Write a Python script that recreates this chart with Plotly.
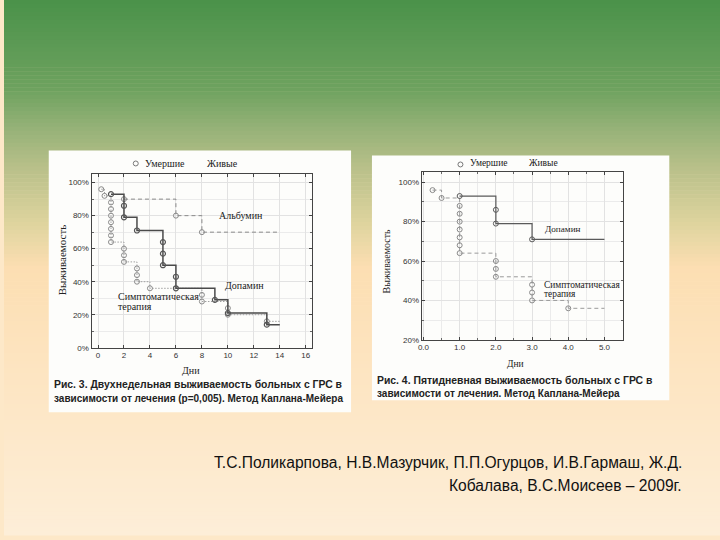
import numpy as np
import plotly.graph_objects as go

W, H = 720, 540

# ---------------- DATA ----------------
# Fig. 3 (two-week survival, %)
f3_symp_t = [0.25, 0.5, 1, 1, 1, 1, 1, 1, 1, 2, 2, 2, 3, 3, 3, 4, 8, 8, 10, 10, 13]
f3_symp_s = [96, 92, 88, 84, 80, 76, 72, 68, 64, 60, 56, 52, 48, 44, 40, 36, 32, 28, 24, 20, 16]
f3_symp_end = 14

f3_dop_t = [1, 2, 2, 3, 5, 5, 5, 6, 6, 9, 10, 13]
f3_dop_s = [93, 86, 79, 71, 64, 57, 50, 43, 36, 29, 21, 14]
f3_dop_end = 14

f3_alb_t = [2, 6, 8]
f3_alb_s = [90, 80, 70]
f3_alb_end = 14

# Fig. 4 (five-day survival, %)
f4_symp_t = [0.25, 0.5, 1, 1, 1, 1, 1, 1, 1, 2, 2, 2, 3, 3, 3, 4]
f4_symp_s = [96, 92, 88, 84, 80, 76, 72, 68, 64, 60, 56, 52, 48, 44, 40, 36]
f4_symp_end = 5

f4_dop_t = [1, 2, 2, 3]
f4_dop_s = [93, 86, 79, 71]
f4_dop_end = 5

f3_xticks = [0, 2, 4, 6, 8, 10, 12, 14, 16]
f3_yticks = [0, 20, 40, 60, 80, 100]
f3_yticktext = ["0%", "20%", "40%", "60%", "80%", "100%"]
f4_xticks = [0, 1, 2, 3, 4, 5]
f4_xticktext = ["0.0", "1.0", "2.0", "3.0", "4.0", "5.0"]
f4_yticks = [20, 40, 60, 80, 100]
f4_yticktext = ["20%", "40%", "60%", "80%", "100%"]

legend_dead = "Умершие"
legend_alive = "Живые"
ytitle = "Выживаемость"
xtitle = "Дни"
cap3 = ["Рис. 3. Двухнедельная выживаемость больных с ГРС в",
        "зависимости от лечения (р=0,005). Метод Каплана-Мейера"]
cap4 = ["Рис. 4. Пятидневная выживаемость больных с ГРС в",
        "зависимости от лечения. Метод Каплана-Мейера"]
authors = ["Т.С.Поликарпова, Н.В.Мазурчик, П.П.Огурцов, И.В.Гармаш, Ж.Д.",
           "Кобалава, В.С.Моисеев – 2009г."]

# ---------------- helpers ----------------
def px(x):
    return x / W

def py(y):
    return 1 - y / H

def step_line(t, s, end):
    return list(t) + [end], list(s) + [s[-1]]

fig = go.Figure()

SERIF = "Liberation Serif"
SANS = "Liberation Sans"

def add_curve(t, s, end, xa, ya, color, dash, lw, mcolor, mlw, msize):
    lx, ly = step_line(t, s, end)
    fig.add_trace(go.Scatter(x=lx, y=ly, mode="lines", line_shape="hv",
                             line=dict(color=color, dash=dash, width=lw),
                             xaxis=xa, yaxis=ya, showlegend=False, hoverinfo="skip"))
    fig.add_trace(go.Scatter(x=t, y=s, mode="markers",
                             marker=dict(symbol="circle-open", size=msize,
                                         color=mcolor, line=dict(width=mlw, color=mcolor)),
                             xaxis=xa, yaxis=ya, showlegend=False, hoverinfo="skip"))

# Fig 3
add_curve(f3_alb_t, f3_alb_s, f3_alb_end, "x", "y", "#8a8a8a", "4px,3px", 1, "#8a8a8a", 1, 5)
add_curve(f3_symp_t, f3_symp_s, f3_symp_end, "x", "y", "#a0a0a0", "1.5px,1.5px", 1, "#8a8a8a", 1, 5)
add_curve(f3_dop_t, f3_dop_s, f3_dop_end, "x", "y", "#4a4a4a", "solid", 1.5, "#555555", 1.2, 5)
# Fig 4
add_curve(f4_symp_t, f4_symp_s, f4_symp_end, "x2", "y2", "#9a9a9a", "4px,3px", 1, "#8a8a8a", 1, 5)
add_curve(f4_dop_t, f4_dop_s, f4_dop_end, "x2", "y2", "#5a5a5a", "solid", 1.2, "#5a5a5a", 1, 5)

# ---------------- background gradient ----------------
stops = [(0, (74, 146, 74)), (90, (110, 162, 95)), (130, (150, 178, 120)),
         (170, (185, 192, 138)), (225, (222, 212, 158)), (270, (252, 222, 178)),
         (380, (253, 229, 194)), (540, (253, 238, 216))]
sy = [p[0] for p in stops]
shapes = []
band = 4
for y0 in range(0, H, band):
    yc = y0 + band / 2
    r = np.interp(yc, sy, [p[1][0] for p in stops])
    g = np.interp(yc, sy, [p[1][1] for p in stops])
    b = np.interp(yc, sy, [p[1][2] for p in stops])
    shapes.append(dict(type="rect", xref="paper", yref="paper", layer="below",
                       x0=0, x1=1, y0=py(y0 + band + 0.5), y1=py(y0),
                       fillcolor=f"rgb({r:.0f},{g:.0f},{b:.0f})", line=dict(width=0)))

# white panels
for (x0, y0, x1, y1) in [(45, 152, 349, 416), (370, 157, 669, 404)]:
    shapes.append(dict(type="rect", xref="paper", yref="paper", layer="below",
                       x0=px(x0), x1=px(x1), y0=py(y1), y1=py(y0),
                       fillcolor="#fdfdfb", line=dict(width=0)))

# legend circles
for (cx, cy) in [(132.5, 165), (459, 166)]:
    shapes.append(dict(type="circle", xref="paper", yref="paper",
                       x0=px(cx - 2.5), x1=px(cx + 2.5), y0=py(cy + 2.5), y1=py(cy - 2.5),
                       line=dict(color="#777", width=1), fillcolor="rgba(0,0,0,0)"))

ann = []
def text(x, y, s, size, family=SERIF, color="#222", xanchor="left", angle=0, bold=False):
    ann.append(dict(x=px(x), y=py(y), xref="paper", yref="paper", text=(f"<b>{s}</b>" if bold else s),
                    showarrow=False, xanchor=xanchor, yanchor="middle", textangle=angle,
                    font=dict(family=family, size=size, color=color)))

# legends
text(140, 165, legend_dead, 10)
text(202, 165, legend_alive, 10)
text(467, 165, legend_dead, 9.5)
text(526, 165, legend_alive, 9.5)
# axis titles
text(58, 263, ytitle, 11, xanchor="center", angle=-90)
text(385, 263, ytitle, 10, xanchor="center", angle=-90)
text(188, 374, xtitle, 10, xanchor="center")
text(514, 367, xtitle, 9.5, xanchor="center")
# captions
text(48, 388, cap3[0], 10.4, family=SANS, color="#222", bold=True)
text(48, 402, cap3[1], 10, family=SANS, color="#222", bold=True)
text(373, 384, cap4[0], 10.4, family=SANS, color="#222", bold=True)
text(373, 397, cap4[1], 10, family=SANS, color="#222", bold=True)
# authors
text(684, 467, authors[0], 15.6, family=SANS, color="#111", xanchor="right")
text(684, 490, authors[1], 15.6, family=SANS, color="#111", xanchor="right")

# curve labels (data coords)
def dlabel(x, y, s, xr, yr, size):
    ann.append(dict(x=x, y=y, xref=xr, yref=yr, text=s, showarrow=False,
                    xanchor="left", yanchor="middle",
                    font=dict(family=SERIF, size=size, color="#222")))

dlabel(9.15, 80, "Альбумин", "x", "y", 10)
dlabel(9.65, 38, "Допамин", "x", "y", 10)
dlabel(1.4, 31.2, "Симптоматическая", "x", "y", 10)
dlabel(1.4, 25.2, "терапия", "x", "y", 10)
dlabel(3.3, 76.2, "Допамин", "x2", "y2", 9.2)
dlabel(3.28, 47.8, "Симптоматическая", "x2", "y2", 9.4)
dlabel(3.28, 43.2, "терапия", "x2", "y2", 9.4)

axis_common = dict(showline=True, linecolor="#444", linewidth=1, mirror="ticks",
                   ticks="inside", ticklen=3, tickcolor="#444",
                   showgrid=True, gridcolor="#e2e2e2", gridwidth=1, zeroline=False,
                   tickfont=dict(family=SANS, size=8, color="#333"))
minor_y = dict(dtick=10, tick0=0, showgrid=True, gridcolor="#ebebeb",
               ticks="inside", ticklen=2, tickcolor="#666")

fig.update_layout(
    width=W, height=H, margin=dict(l=0, r=0, t=0, b=0),
    paper_bgcolor="rgb(253,232,200)", plot_bgcolor="#ffffff",
    showlegend=False,
    shapes=shapes, annotations=ann,
    xaxis=dict(domain=[px(88), px(310)], range=[-0.5, 16.5], tickvals=f3_xticks,
               anchor="y", **axis_common),
    yaxis=dict(domain=[py(351), py(176)], range=[0, 105], tickvals=f3_yticks,
               ticktext=f3_yticktext, anchor="x", minor=minor_y, **axis_common),
    xaxis2=dict(domain=[px(420), px(622)], range=[-0.05, 5.5], tickvals=f4_xticks,
                ticktext=f4_xticktext, anchor="y2",
                minor=dict(dtick=0.5, tick0=0, showgrid=True, gridcolor="#ebebeb",
                           ticks="inside", ticklen=2, tickcolor="#666"),
                **axis_common),
    yaxis2=dict(domain=[py(343), py(174)], range=[20, 105], tickvals=f4_yticks,
                ticktext=f4_yticktext, anchor="x2", minor=minor_y, **axis_common),
)

fig.write_html("out.html")
